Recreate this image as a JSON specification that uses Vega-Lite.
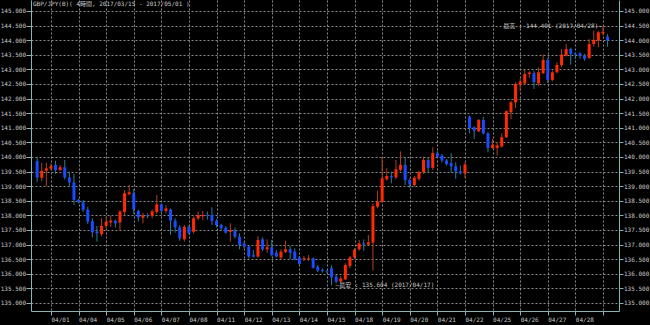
{
  "$schema": "https://vega.github.io/schema/vega-lite/v6.json",
  "width": 588,
  "height": 311,
  "autosize": {"type": "none"},
  "padding": {"left": 31, "top": 0, "right": 31, "bottom": 14},
  "background": "#000000",
  "config": {
    "view": {"stroke": null},
    "font": "DejaVu Sans Mono, Noto Sans CJK JP",
    "axis": {"labelFont": "DejaVu Sans Mono, Noto Sans CJK JP", "labelFontSize": 6, "labelColor": "#c8c8c8", "domainColor": "#88b4b4", "tickColor": "#88b4b4", "gridColor": "#8a8a8a", "gridDash": [2, 2], "gridOpacity": 1, "title": null, "labelOverlap": false, "labelFlush": false, "labelSeparation": 0}
  },
  "title": {"text": "GBP/JPY(B)( 4時間, 2017/03/15 - 2017/05/01 )", "anchor": "start", "frame": "group", "orient": "top", "offset": -7, "dx": 2, "font": "DejaVu Sans Mono, Noto Sans CJK JP", "fontSize": 6, "fontWeight": "normal", "color": "#c8c8c8"},
  "datasets": {
    "candles": [
      {"i":0,"o":139.86,"h":140.01,"l":139.15,"c":139.30},
      {"i":1,"o":139.29,"h":139.80,"l":139.18,"c":139.53},
      {"i":2,"o":139.53,"h":139.80,"l":139.00,"c":139.61},
      {"i":3,"o":139.60,"h":139.78,"l":139.55,"c":139.69},
      {"i":4,"o":139.73,"h":139.87,"l":139.42,"c":139.55},
      {"i":5,"o":139.55,"h":139.73,"l":139.53,"c":139.65},
      {"i":6,"o":139.65,"h":139.90,"l":139.23,"c":139.30},
      {"i":7,"o":139.30,"h":139.50,"l":138.98,"c":139.13},
      {"i":8,"o":139.13,"h":139.42,"l":138.36,"c":138.53},
      {"i":9,"o":138.53,"h":138.58,"l":138.41,"c":138.46},
      {"i":10,"o":138.45,"h":138.53,"l":138.12,"c":138.19},
      {"i":11,"o":138.20,"h":138.30,"l":137.71,"c":137.79},
      {"i":12,"o":137.80,"h":137.90,"l":137.25,"c":137.42},
      {"i":13,"o":137.45,"h":137.64,"l":137.10,"c":137.39},
      {"i":14,"o":137.36,"h":137.90,"l":137.29,"c":137.64},
      {"i":15,"o":137.64,"h":137.96,"l":137.56,"c":137.79},
      {"i":16,"o":137.76,"h":137.99,"l":137.61,"c":137.82},
      {"i":17,"o":137.81,"h":137.86,"l":137.59,"c":137.73},
      {"i":18,"o":137.76,"h":138.18,"l":137.48,"c":138.13},
      {"i":19,"o":138.12,"h":138.87,"l":138.02,"c":138.76},
      {"i":20,"o":138.73,"h":139.04,"l":138.68,"c":138.79},
      {"i":21,"o":138.76,"h":138.90,"l":138.05,"c":138.21},
      {"i":22,"o":138.15,"h":138.20,"l":137.79,"c":137.93},
      {"i":23,"o":137.92,"h":138.09,"l":137.73,"c":138.00},
      {"i":24,"o":138.00,"h":138.07,"l":137.90,"c":137.97},
      {"i":25,"o":137.99,"h":138.20,"l":137.90,"c":138.14},
      {"i":26,"o":138.12,"h":138.70,"l":138.05,"c":138.38},
      {"i":27,"o":138.38,"h":138.41,"l":138.07,"c":138.15},
      {"i":28,"o":138.15,"h":138.35,"l":138.07,"c":138.24},
      {"i":29,"o":138.20,"h":138.24,"l":137.33,"c":137.82},
      {"i":30,"o":137.82,"h":137.90,"l":137.41,"c":137.59},
      {"i":31,"o":137.59,"h":137.67,"l":137.13,"c":137.21},
      {"i":32,"o":137.18,"h":137.67,"l":137.10,"c":137.61},
      {"i":33,"o":137.61,"h":137.67,"l":137.33,"c":137.39},
      {"i":34,"o":137.44,"h":137.96,"l":137.38,"c":137.90},
      {"i":35,"o":137.90,"h":138.13,"l":137.84,"c":138.01},
      {"i":36,"o":137.97,"h":138.15,"l":137.84,"c":138.01},
      {"i":37,"o":138.00,"h":138.13,"l":137.86,"c":137.98},
      {"i":38,"o":138.01,"h":138.28,"l":137.67,"c":137.81},
      {"i":39,"o":137.82,"h":137.87,"l":137.59,"c":137.67},
      {"i":40,"o":137.67,"h":137.71,"l":137.48,"c":137.56},
      {"i":41,"o":137.58,"h":137.63,"l":137.38,"c":137.41},
      {"i":42,"o":137.44,"h":137.73,"l":137.10,"c":137.50},
      {"i":43,"o":137.48,"h":137.59,"l":137.21,"c":137.27},
      {"i":44,"o":137.27,"h":137.39,"l":136.84,"c":136.99},
      {"i":45,"o":137.04,"h":137.10,"l":136.87,"c":136.93},
      {"i":46,"o":136.93,"h":136.95,"l":136.53,"c":136.59},
      {"i":47,"o":136.64,"h":136.81,"l":136.56,"c":136.59},
      {"i":48,"o":136.59,"h":137.29,"l":136.56,"c":137.16},
      {"i":49,"o":137.18,"h":137.25,"l":136.78,"c":136.84},
      {"i":50,"o":136.84,"h":137.18,"l":136.72,"c":136.91},
      {"i":51,"o":136.91,"h":137.16,"l":136.59,"c":136.64},
      {"i":52,"o":136.72,"h":136.81,"l":136.56,"c":136.59},
      {"i":53,"o":136.56,"h":136.84,"l":136.49,"c":136.76},
      {"i":54,"o":136.75,"h":137.13,"l":136.71,"c":136.84},
      {"i":55,"o":136.84,"h":136.95,"l":136.49,"c":136.72},
      {"i":56,"o":136.76,"h":136.87,"l":136.47,"c":136.50},
      {"i":57,"o":136.56,"h":136.61,"l":136.29,"c":136.34},
      {"i":58,"o":136.50,"h":136.61,"l":136.43,"c":136.53},
      {"i":59,"o":136.50,"h":136.64,"l":136.44,"c":136.53},
      {"i":60,"o":136.53,"h":136.56,"l":136.18,"c":136.21},
      {"i":61,"o":136.24,"h":136.30,"l":136.06,"c":136.11},
      {"i":62,"o":136.13,"h":136.19,"l":136.04,"c":136.10},
      {"i":63,"o":136.10,"h":136.13,"l":136.02,"c":136.08},
      {"i":64,"o":136.19,"h":136.29,"l":135.604,"c":135.88},
      {"i":65,"o":135.90,"h":135.96,"l":135.67,"c":135.73},
      {"i":66,"o":135.73,"h":135.92,"l":135.70,"c":135.84},
      {"i":67,"o":135.81,"h":136.36,"l":135.79,"c":136.30},
      {"i":68,"o":136.27,"h":136.61,"l":136.19,"c":136.56},
      {"i":69,"o":136.56,"h":136.88,"l":136.49,"c":136.82},
      {"i":70,"o":136.84,"h":137.16,"l":136.79,"c":137.04},
      {"i":71,"o":137.04,"h":137.18,"l":136.79,"c":137.00},
      {"i":72,"o":137.00,"h":137.33,"l":136.98,"c":137.08},
      {"i":73,"o":137.07,"h":138.42,"l":136.11,"c":138.32},
      {"i":74,"o":138.30,"h":138.85,"l":138.24,"c":138.47},
      {"i":75,"o":138.47,"h":140.00,"l":138.44,"c":139.27},
      {"i":76,"o":139.24,"h":139.61,"l":139.19,"c":139.35},
      {"i":77,"o":139.35,"h":139.50,"l":139.10,"c":139.30},
      {"i":78,"o":139.30,"h":139.90,"l":139.24,"c":139.58},
      {"i":79,"o":139.56,"h":140.19,"l":139.50,"c":139.73},
      {"i":80,"o":139.73,"h":139.99,"l":139.04,"c":139.21},
      {"i":81,"o":139.21,"h":139.27,"l":138.94,"c":139.06},
      {"i":82,"o":139.04,"h":139.35,"l":138.99,"c":139.29},
      {"i":83,"o":139.25,"h":139.53,"l":139.19,"c":139.48},
      {"i":84,"o":139.48,"h":140.01,"l":139.42,"c":139.90},
      {"i":85,"o":139.90,"h":139.99,"l":139.48,"c":139.63},
      {"i":86,"o":139.63,"h":140.33,"l":139.56,"c":140.14},
      {"i":87,"o":140.14,"h":140.20,"l":139.97,"c":140.01},
      {"i":88,"o":140.05,"h":140.10,"l":139.82,"c":139.88},
      {"i":89,"o":139.88,"h":139.93,"l":139.71,"c":139.76},
      {"i":90,"o":139.79,"h":140.13,"l":139.44,"c":139.68},
      {"i":91,"o":139.68,"h":139.82,"l":139.25,"c":139.51},
      {"i":92,"o":139.51,"h":139.71,"l":139.40,"c":139.44},
      {"i":93,"o":139.44,"h":139.82,"l":139.28,"c":139.74},
      {"i":94,"o":141.38,"h":141.42,"l":140.81,"c":140.99},
      {"i":95,"o":141.02,"h":141.04,"l":140.62,"c":140.90},
      {"i":96,"o":140.88,"h":141.30,"l":140.85,"c":141.27},
      {"i":97,"o":141.27,"h":141.38,"l":140.77,"c":140.81},
      {"i":98,"o":140.81,"h":140.85,"l":140.16,"c":140.31},
      {"i":99,"o":140.31,"h":140.62,"l":140.28,"c":140.42},
      {"i":100,"o":140.31,"h":140.50,"l":140.05,"c":140.40},
      {"i":101,"o":140.36,"h":140.81,"l":140.33,"c":140.68},
      {"i":102,"o":140.68,"h":141.59,"l":140.65,"c":141.57},
      {"i":103,"o":141.53,"h":141.93,"l":141.30,"c":141.87},
      {"i":104,"o":141.87,"h":142.56,"l":141.68,"c":142.50},
      {"i":105,"o":142.48,"h":142.67,"l":142.25,"c":142.58},
      {"i":106,"o":142.52,"h":142.98,"l":142.48,"c":142.84},
      {"i":107,"o":142.84,"h":142.94,"l":142.71,"c":142.89},
      {"i":108,"o":142.87,"h":142.96,"l":142.33,"c":142.56},
      {"i":109,"o":142.52,"h":143.07,"l":142.44,"c":142.90},
      {"i":110,"o":142.87,"h":143.51,"l":142.84,"c":143.32},
      {"i":111,"o":143.32,"h":143.39,"l":142.53,"c":142.64},
      {"i":112,"o":142.64,"h":142.96,"l":142.59,"c":142.90},
      {"i":113,"o":142.90,"h":143.24,"l":142.87,"c":143.15},
      {"i":114,"o":143.15,"h":143.70,"l":143.07,"c":143.51},
      {"i":115,"o":143.47,"h":143.87,"l":143.44,"c":143.70},
      {"i":116,"o":143.70,"h":143.74,"l":143.16,"c":143.53},
      {"i":117,"o":143.55,"h":143.59,"l":143.36,"c":143.51},
      {"i":118,"o":143.55,"h":143.59,"l":143.36,"c":143.47},
      {"i":119,"o":143.47,"h":143.53,"l":143.30,"c":143.36},
      {"i":120,"o":143.39,"h":144.04,"l":143.36,"c":143.87},
      {"i":121,"o":143.87,"h":144.33,"l":143.78,"c":144.01},
      {"i":122,"o":143.99,"h":144.33,"l":143.76,"c":144.27},
      {"i":123,"o":144.24,"h":144.491,"l":144.16,"c":144.29},
      {"i":124,"o":144.12,"h":144.21,"l":143.78,"c":143.99}
    ]
  },
  "resolve": {"axis": {"x": "independent", "y": "independent"}},
  "layer": [
    {
      "data": {"name": "candles"},
      "mark": {"type": "rule", "strokeWidth": 1},
      "encoding": {
        "x": {"field": "i", "type": "quantitative", "scale": {"domain": [-0.25, 125.4], "nice": false, "zero": false},
          "axis": {"orient": "bottom", "values": [3,9,15,21,27,33,39,45,51,57,63,69,75,81,87,93,99,105,111,117,123], "labelExpr": "datum.value < 6 ? '04/01' : datum.value < 12 ? '04/04' : datum.value < 18 ? '04/05' : datum.value < 24 ? '04/06' : datum.value < 30 ? '04/07' : datum.value < 36 ? '04/08' : datum.value < 42 ? '04/11' : datum.value < 48 ? '04/12' : datum.value < 54 ? '04/13' : datum.value < 60 ? '04/14' : datum.value < 66 ? '04/15' : datum.value < 72 ? '04/18' : datum.value < 78 ? '04/19' : datum.value < 84 ? '04/20' : datum.value < 90 ? '04/21' : datum.value < 96 ? '04/22' : datum.value < 102 ? '04/25' : datum.value < 108 ? '04/26' : datum.value < 114 ? '04/27' : datum.value < 120 ? '04/28' : ''", "grid": true, "tickSize": 4, "labelAlign": "left", "labelBaseline": "top", "labelPadding": 1.5, "labelFlush": false, "labelOverlap": false, "labelSeparation": 0, "title": null}},
        "y": {"field": "l", "type": "quantitative", "scale": {"domain": [134.726, 145.3767], "nice": false, "zero": false},
          "axis": {"orient": "left", "values": [135,135.5,136,136.5,137,137.5,138,138.5,139,139.5,140,140.5,141,141.5,142,142.5,143,143.5,144,144.5,145], "format": ".3f", "grid": true, "tickSize": 5, "labelPadding": 0.5, "labelFlush": false, "labelOverlap": false, "title": null}},
        "y2": {"field": "h"},
        "color": {"condition": {"test": "datum.c >= datum.o", "value": "#b2401c"}, "value": "#2a7f98"}
      }
    },
    {
      "data": {"name": "candles"},
      "mark": {"type": "bar", "size": 3},
      "encoding": {
        "x": {"field": "i", "type": "quantitative", "axis": null},
        "y": {"field": "o", "type": "quantitative",
          "axis": {"orient": "right", "values": [135,135.5,136,136.5,137,137.5,138,138.5,139,139.5,140,140.5,141,141.5,142,142.5,143,143.5,144,144.5,145], "format": ".3f", "grid": false, "tickSize": 4, "labelPadding": 0.5, "labelFlush": false, "labelOverlap": false, "title": null}},
        "y2": {"field": "c"},
        "color": {"condition": {"test": "datum.c >= datum.o", "value": "#ff2a00"}, "value": "#1a4cff"}
      }
    },
    {
      "data": {"values": [{"i": 123, "p": 144.491, "t": "最高 : 144.491 (2017/04/28)—"}]},
      "mark": {"type": "text", "align": "right", "baseline": "middle", "dx": -1, "fontSize": 6, "font": "DejaVu Sans Mono, Noto Sans CJK JP", "color": "#c8c8c8"},
      "encoding": {
        "x": {"field": "i", "type": "quantitative", "axis": null},
        "y": {"field": "p", "type": "quantitative", "axis": null},
        "text": {"field": "t"}
      }
    },
    {
      "data": {"values": [{"i": 64, "p": 135.604, "t": "—最安 : 135.604 (2017/04/17)"}]},
      "mark": {"type": "text", "align": "left", "baseline": "middle", "dx": 4, "fontSize": 6, "font": "DejaVu Sans Mono, Noto Sans CJK JP", "color": "#c8c8c8"},
      "encoding": {
        "x": {"field": "i", "type": "quantitative", "axis": null},
        "y": {"field": "p", "type": "quantitative", "axis": null},
        "text": {"field": "t"}
      }
    }
  ]
}
